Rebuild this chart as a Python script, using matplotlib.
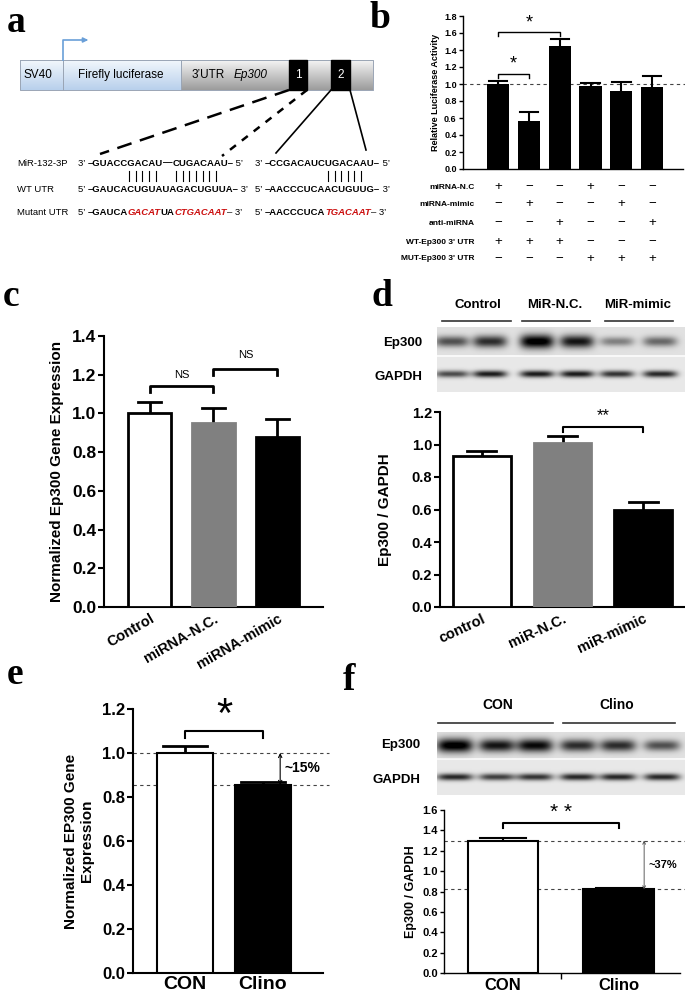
import numpy as np
import matplotlib.pyplot as plt

W, H = 685, 1002

# ---- panel b: luciferase assay ----
b_vals = [1.00, 0.57, 1.45, 0.98, 0.92, 0.96]
b_err = [0.03, 0.10, 0.08, 0.03, 0.10, 0.13]
b_rows = ['miRNA-N.C', 'miRNA-mimic', 'anti-miRNA', "WT-Ep300 3' UTR", "MUT-Ep300 3' UTR"]
b_signs = ['+−−+−−', '−+−−+−', '−−+−−+', '+++−−−', '−−−+++']

# ---- panel c: qPCR ----
c_labels = ['Control', 'miRNA-N.C.', 'miRNA-mimic']
c_vals = [1.00, 0.95, 0.88]
c_err = [0.06, 0.08, 0.09]

# ---- panel d: western blot quantification ----
d_labels = ['control', 'miR-N.C.', 'miR-mimic']
d_vals = [0.93, 1.01, 0.60]
d_err = [0.03, 0.04, 0.045]
d_groups = ['Control', 'MiR-N.C.', 'MiR-mimic']
d_ep300 = [0.60, 0.75, 1.00, 0.85, 0.40, 0.50]
d_gapdh = [0.65, 0.85, 0.85, 0.85, 0.75, 0.80]

# ---- panel e: qPCR clinorotation ----
e_labels = ['CON', 'Clino']
e_vals = [1.00, 0.855]
e_err = [0.03, 0.015]

# ---- panel f: western blot clinorotation ----
f_labels = ['CON', 'Clino']
f_vals = [1.30, 0.82]
f_err = [0.025, 0.01]
f_groups = ['CON', 'Clino']
f_ep300 = [1.00, 0.85, 0.90, 0.75, 0.75, 0.60]
f_gapdh = [0.80, 0.70, 0.75, 0.80, 0.80, 0.80]

fills = ['white', '#808080', 'black']
edges = ['black', '#808080', 'black']

plt.rcParams['font.family'] = 'Liberation Sans'
SEQ_FS = 6.8

fig = plt.figure(figsize=(W / 100, H / 100), dpi=100)


def px(x0, y0, x1, y1):
    return [x0 / W, 1 - y1 / H, (x1 - x0) / W, (y1 - y0) / H]


# overlay axes in pixel coordinates (for panel a and decorations)
ov = fig.add_axes([0, 0, 1, 1])
ov.set_xlim(0, W)
ov.set_ylim(H, 0)
ov.axis('off')
ov.patch.set_alpha(0)

for lab, x, y in [('a', 7, 22), ('b', 370, 18), ('c', 3, 297),
                  ('d', 372, 297), ('e', 7, 674), ('f', 343, 681)]:
    ov.text(x, y, lab, fontsize=27, fontweight='bold', family='Liberation Serif',
            va='center', ha='left')


# ---------------- panel a ----------------
def grad_rect(x0, x1, y0, y1, top, bot):
    g = np.linspace(0, 1, 50)[:, None]
    top = np.array(plt.matplotlib.colors.to_rgb(top))
    bot = np.array(plt.matplotlib.colors.to_rgb(bot))
    img = top[None, None, :] * (1 - g[:, :, None]) + bot[None, None, :] * g[:, :, None]
    ov.imshow(img, extent=(x0, x1, y1, y0), aspect='auto', zorder=1)
    ov.plot([x0, x1, x1, x0, x0], [y0, y0, y1, y1, y0], color='#9aa5b5', lw=0.7, zorder=2)


bx_top, bx_bot = 60, 90
grad_rect(20, 63, bx_top, bx_bot, '#f2f7fc', '#b8d0ec')
grad_rect(63, 181, bx_top, bx_bot, '#f2f7fc', '#b8d0ec')
grad_rect(181, 373, bx_top, bx_bot, '#f4f4f4', '#9c9c9c')
ov.add_patch(plt.Rectangle((289, bx_top), 18, bx_bot - bx_top, color='black', zorder=3))
ov.add_patch(plt.Rectangle((331, bx_top), 19, bx_bot - bx_top, color='black', zorder=3))
ov.set_xlim(0, W)
ov.set_ylim(H, 0)
ov.text(38, 75, 'SV40', fontsize=8.5, ha='center', va='center', zorder=4)
ov.text(121, 75, 'Firefly luciferase', fontsize=8.5, ha='center', va='center', zorder=4)
ov.text(192, 75, '3’UTR', fontsize=8.5, ha='left', va='center', zorder=4)
ov.text(234, 75, 'Ep300', fontsize=8.5, style='italic', ha='left', va='center', zorder=4)
ov.text(298, 75, '1', fontsize=8.5, color='white', ha='center', va='center', zorder=4)
ov.text(340.5, 75, '2', fontsize=8.5, color='white', ha='center', va='center', zorder=4)
# promoter arrow
ov.plot([63, 63, 84], [60, 40, 40], color='#6a9fd8', lw=1.2, zorder=2)
ov.annotate('', xy=(91, 40), xytext=(82, 40),
            arrowprops=dict(arrowstyle='-|>', color='#6a9fd8', lw=1.2, mutation_scale=7))
# connector lines
ov.plot([289, 100], [90, 154], color='black', lw=1.8, dashes=(6, 3.5))
ov.plot([307, 222], [90, 156], color='black', lw=1.8, dashes=(3, 3))
ov.plot([331, 276], [90, 153], color='black', lw=1.2)
ov.plot([350, 366], [90, 150], color='black', lw=1.2)

renderer = fig.canvas.get_renderer()


def seq(x, y, parts, size=SEQ_FS):
    for s, color, bold, italic in parts:
        t = ov.text(x, y, s, fontsize=size, color=color,
                    fontweight='bold' if bold else 'normal',
                    style='italic' if italic else 'normal', ha='left', va='center')
        x += t.get_window_extent(renderer=renderer).width
    return x


RED = '#cc1010'
row_y = [163, 189, 212]
for lab, y in zip(['MiR-132-3P', 'WT UTR', 'Mutant UTR'], row_y):
    ov.text(17, y, lab, fontsize=SEQ_FS, ha='left', va='center')

seq(78, row_y[0], [('3’ ', 'k', 0, 0), ('–GUACCGACAU', 'k', 1, 0), ('—', 'k', 1, 0),
                   ('CUGACAAU–', 'k', 1, 0), (' 5’', 'k', 0, 0)])
seq(78, row_y[1], [('5’ ', 'k', 0, 0), ('–GAUCACUGUAUAGACUGUUA–', 'k', 1, 0), (' 3’', 'k', 0, 0)])
seq(78, row_y[2], [('5’ ', 'k', 0, 0), ('–GAUCA', 'k', 1, 0), ('GACAT', RED, 1, 1),
                   ('UA', 'k', 1, 0), ('CTGACAAT', RED, 1, 1), ('– 3’', 'k', 0, 0)])
seq(255, row_y[0], [('3’ ', 'k', 0, 0), ('–CCGACAUCUGACAAU–', 'k', 1, 0), (' 5’', 'k', 0, 0)])
seq(255, row_y[1], [('5’ ', 'k', 0, 0), ('–AACCCUCAACUGUUG–', 'k', 1, 0), (' 3’', 'k', 0, 0)])
seq(255, row_y[2], [('5’ ', 'k', 0, 0), ('–AACCCUCA', 'k', 1, 0), ('TGACAAT', RED, 1, 1),
                    ('– 3’', 'k', 0, 0)])
for xa, xb, n in [(129, 156, 5), (176, 216, 7), (328, 361, 6)]:
    for xx in np.linspace(xa, xb, n):
        ov.plot([xx, xx], [171, 181], color='black', lw=0.8)


# ---------------- helpers for bar panels ----------------
def bar_axes(rect, xlim, ylim, ticks, fs, tick_w=1.5):
    ax = fig.add_axes(px(*rect))
    ax.set_xlim(*xlim)
    ax.set_ylim(*ylim)
    ax.patch.set_alpha(0)
    for s in ['top', 'right']:
        ax.spines[s].set_visible(False)
    for s in ['left', 'bottom']:
        ax.spines[s].set_linewidth(tick_w)
    ax.set_yticks(ticks)
    ax.set_yticklabels(['%.1f' % t for t in ticks], fontsize=fs, fontweight='bold')
    ax.tick_params(axis='y', length=4, width=tick_w, pad=1.5)
    ax.tick_params(axis='x', length=0)
    return ax


def bars(ax, vals, errs, width, colors, ecs, lw, elw, cap):
    x = np.arange(len(vals))
    ax.bar(x, vals, width=width, color=colors, edgecolor=ecs, linewidth=lw, zorder=3)
    for xi, v, e in zip(x, vals, errs):
        ax.plot([xi, xi], [v, v + e], color='black', lw=elw, zorder=2, solid_capstyle='butt')
        ax.plot([xi - cap, xi + cap], [v + e, v + e], color='black', lw=elw, zorder=2)


def bracket(ax, x0, x1, y, drop, lw=1.5):
    ax.plot([x0, x0, x1, x1], [y - drop, y, y, y - drop], color='black', lw=lw, clip_on=False)


def blot(rect, split, lanes, top, bot, hw, top_h, bot_h):
    x0, y0, x1, y1 = rect
    ax = fig.add_axes(px(*rect))
    ax.axis('off')
    w, h = x1 - x0, y1 - y0
    yy, xx = np.mgrid[0:h, 0:w] + 0.5
    img = np.where(yy < split, 0.88, 0.91)
    img = np.where(np.abs(yy - split) < 1.5, 0.97, img)
    yc_top, yc_bot = split / 2, (split + h) / 2
    for lx, st, sb in zip(lanes, top, bot):
        dx = np.abs(xx - (lx - x0)) / hw
        prof = np.exp(-dx ** 4)
        ht = top_h[0] + top_h[1] * st
        img = img - 0.95 * st * prof * np.exp(-((yy - yc_top) / ht) ** 2) * (yy < split)
        img = img - 0.95 * sb * prof * np.exp(-((yy - yc_bot) / bot_h) ** 2) * (yy > split)
    ax.imshow(np.clip(img, 0, 1), cmap='gray', vmin=0, vmax=1, aspect='auto',
              interpolation='bilinear')
    return ax


# ---------------- panel b ----------------
axb = bar_axes((463, 16, 683, 169), (-1.14, 6.0), (0, 1.8), np.arange(0, 1.81, 0.2), 6.5, 1.0)
bars(axb, b_vals, b_err, 0.72, 'black', 'black', 0, 1.5, 0.3)
axb.set_xticks([])
axb.set_ylabel('Relative Luciferase Activity', fontsize=6.5, fontweight='bold', labelpad=3)
axb.plot([-1.14, 6.05], [1, 1], color='#444444', lw=0.8, ls=(0, (3, 3)), clip_on=False, zorder=1)
axb.tick_params(axis='y', length=3)
bracket(axb, 0, 1, 1.12, 0.05, 1.0)
axb.text(0.5, 1.23, '*', fontsize=13, ha='center', va='center')
bracket(axb, 0, 2, 1.61, 0.05, 1.0)
axb.text(1.0, 1.72, '*', fontsize=13, ha='center', va='center')
row_px = [187, 204, 223, 242, 259]
for lab, signs, y in zip(b_rows, b_signs, row_px):
    ov.text(475, y, lab, fontsize=6, fontweight='bold', ha='right', va='center')
    for i, s in enumerate(signs):
        xx = 498 + i * 30.8
        ov.text(xx, y, s, fontsize=9.5, ha='center', va='center')

# ---------------- panel c ----------------
axc = bar_axes((104, 336, 323, 607), (-0.72, 2.72), (0, 1.4), np.arange(0, 1.41, 0.2), 12.5, 1.5)
bars(axc, c_vals, c_err, 0.68, fills, edges, 2, 2, 0.18)
axc.set_xticks(range(3))
axc.set_xticklabels(c_labels, rotation=30, ha='right', rotation_mode='anchor',
                    fontsize=10.5, fontweight='bold')
axc.set_ylabel('Normalized Ep300 Gene Expression', fontsize=11, fontweight='bold', labelpad=6)
bracket(axc, 0, 1, 1.14, 0.03, 2)
axc.text(0.5, 1.20, 'NS', fontsize=8, ha='center', va='center')
bracket(axc, 1, 2, 1.23, 0.03, 2)
axc.text(1.5, 1.30, 'NS', fontsize=8, ha='center', va='center')

# ---------------- panel d ----------------
blot((437, 327, 685, 392), 29, [452, 490, 537, 577, 617, 660], d_ep300, d_gapdh, 17, (3, 4), 3.5)
for g, xc, xa, xb in zip(d_groups, [478, 555, 638], [442, 522, 605], [511, 590, 673]):
    ov.text(xc, 305, g, fontsize=9.5, fontweight='bold', ha='center', va='center')
    ov.plot([xa, xb], [321, 321], color='#333333', lw=1.2)
ov.text(422, 343, 'Ep300', fontsize=9.5, fontweight='bold', ha='right', va='center')
ov.text(422, 377, 'GAPDH', fontsize=9.5, fontweight='bold', ha='right', va='center')

axd = bar_axes((440, 412, 685, 607), (-0.52, 2.52), (0, 1.2), np.arange(0, 1.21, 0.2), 10.5, 1.5)
bars(axd, d_vals, d_err, 0.71, fills, edges, 2, 2, 0.18)
axd.set_xticks(range(3))
axd.set_xticklabels(d_labels, rotation=25, ha='right', rotation_mode='anchor',
                    fontsize=10.5, fontweight='bold')
axd.set_ylabel('Ep300 / GAPDH', fontsize=11, fontweight='bold', labelpad=14)
bracket(axd, 1, 2, 1.11, 0.03, 1.5)
axd.text(1.5, 1.18, '**', fontsize=12, ha='center', va='center')

# ---------------- panel e ----------------
axe = bar_axes((133, 709, 323, 973), (-0.67, 1.77), (0, 1.2), np.arange(0, 1.21, 0.2), 12, 1.5)
bars(axe, e_vals, e_err, 0.72, ['white', 'black'], 'black', 1.5, 2, 0.28)
axe.set_xticks(range(2))
axe.set_xticklabels(e_labels, fontsize=14, fontweight='bold')
axe.tick_params(axis='x', pad=2)
axe.set_ylabel('Normalized EP300 Gene\nExpression', fontsize=11, fontweight='bold', labelpad=6)
for v in e_vals:
    axe.plot([-0.67, 1.85], [v, v], color='#444444', lw=0.8, ls=(0, (3, 3)), clip_on=False, zorder=1)
axe.annotate('', xy=(1.22, e_vals[1]), xytext=(1.22, e_vals[0]),
             arrowprops=dict(arrowstyle='<->', lw=0.8, color='black', shrinkA=0, shrinkB=0,
                             mutation_scale=6))
axe.text(1.27, 0.93, '~15%', fontsize=10, fontweight='bold', ha='left', va='center')
bracket(axe, 0, 1, 1.10, 0.03, 1.5)
axe.text(0.5, 1.17, '*', fontsize=30, ha='center', va='center')

# ---------------- panel f ----------------
blot((437, 732, 685, 795), 27, [455, 497, 535, 578, 618, 662], f_ep300, f_gapdh, 18, (3, 4), 3.5)
for g, xc, xa, xb in zip(f_groups, [498, 617], [438, 563], [553, 675]):
    ov.text(xc, 705, g, fontsize=10, fontweight='bold', ha='center', va='center')
    ov.plot([xa, xb], [723, 723], color='#333333', lw=1.2)
ov.text(420, 745, 'Ep300', fontsize=9.5, fontweight='bold', ha='right', va='center')
ov.text(420, 780, 'GAPDH', fontsize=9.5, fontweight='bold', ha='right', va='center')

axf = bar_axes((444, 810, 680, 973), (-0.51, 1.53), (0, 1.6), np.arange(0, 1.61, 0.2), 8, 1.0)
bars(axf, f_vals, f_err, 0.61, ['white', 'black'], 'black', 1.5, 1.5, 0.2)
axf.set_xticks(range(2))
axf.set_xticklabels(f_labels, fontsize=12, fontweight='bold')
axf.set_xticks([0.5], minor=True)
axf.tick_params(axis='x', which='minor', length=4, width=1)
axf.tick_params(axis='y', length=3)
axf.set_ylabel('Ep300 / GAPDH', fontsize=9, fontweight='bold', labelpad=4)
for v in f_vals:
    axf.plot([-0.51, 1.57], [v, v], color='#444444', lw=0.8, ls=(0, (3, 3)), clip_on=False, zorder=1)
axf.annotate('', xy=(1.22, f_vals[1]), xytext=(1.22, f_vals[0]),
             arrowprops=dict(arrowstyle='<->', lw=0.6, color='#444444', shrinkA=0, shrinkB=0,
                             mutation_scale=5))
axf.text(1.26, 1.06, '~37%', fontsize=8, fontweight='bold', ha='left', va='center')
bracket(axf, 0, 1, 1.47, 0.05, 1.5)
axf.text(0.5, 1.58, '* *', fontsize=15, ha='center', va='center')

fig.savefig('out.png', dpi=100)
